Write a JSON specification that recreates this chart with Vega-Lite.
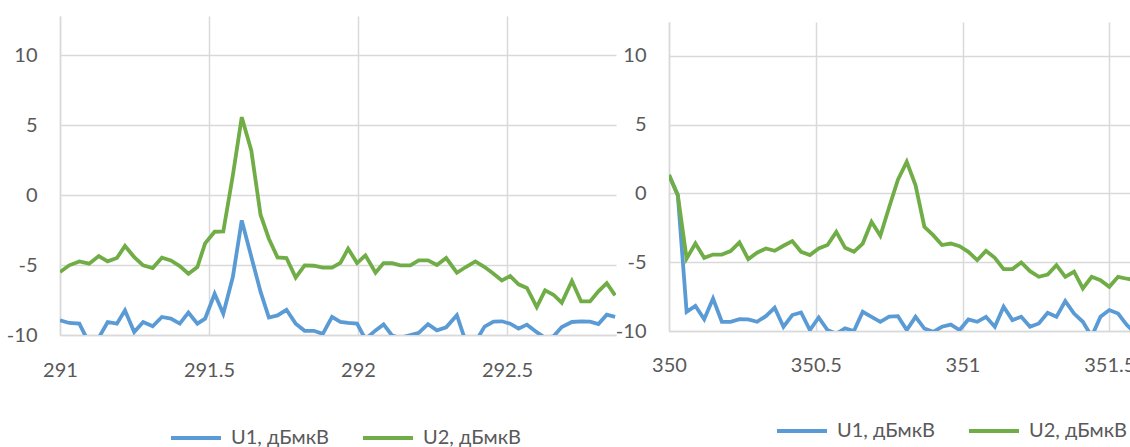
{
  "$schema": "https://vega.github.io/schema/vega-lite/v6.json",
  "autosize": {"type": "pad"},
  "padding": {"left": 6, "top": 13, "right": 0, "bottom": 0},
  "background": "white",
  "config": {
    "view": {"stroke": null},
    "font": "Lato",
    "axis": {
      "labelFont": "Lato", "labelFontSize": 20, "labelColor": "#595959",
      "ticks": false, "tickSize": 0, "title": null,
      "gridColor": "#d9d9d9", "gridWidth": 1.5,
      "domainColor": "#d9d9d9", "domainWidth": 1.5,
      "labelFlush": false, "labelOverlap": false, "labelBound": false,
      "labelExpr": "datum.value < 0 ? '-' + abs(datum.value) : '' + datum.value"
    },
    "legend": {
      "labelFont": "Lato", "labelFontSize": 20, "labelColor": "#595959",
      "symbolType": "stroke", "symbolSize": 2500, "symbolStrokeWidth": 4,
      "columnPadding": 26, "labelOffset": 8, "padding": 0
    }
  },
  "datasets": {
    "left": [
      {"f": 291.000, "u1": -8.95, "u2": -5.5},
      {"f": 291.031, "u1": -9.14, "u2": -5.02},
      {"f": 291.065, "u1": -9.19, "u2": -4.74},
      {"f": 291.098, "u1": -10.6, "u2": -4.9},
      {"f": 291.130, "u1": -10.2, "u2": -4.36},
      {"f": 291.160, "u1": -9.07, "u2": -4.74},
      {"f": 291.191, "u1": -9.19, "u2": -4.5},
      {"f": 291.218, "u1": -8.24, "u2": -3.64},
      {"f": 291.249, "u1": -9.79, "u2": -4.43},
      {"f": 291.279, "u1": -9.07, "u2": -5.02},
      {"f": 291.311, "u1": -9.38, "u2": -5.21},
      {"f": 291.342, "u1": -8.71, "u2": -4.48},
      {"f": 291.372, "u1": -8.83, "u2": -4.67},
      {"f": 291.402, "u1": -9.19, "u2": -5.07},
      {"f": 291.431, "u1": -8.4, "u2": -5.62},
      {"f": 291.461, "u1": -9.19, "u2": -5.14},
      {"f": 291.487, "u1": -8.83, "u2": -3.45},
      {"f": 291.519, "u1": -7.05, "u2": -2.62},
      {"f": 291.548, "u1": -8.48, "u2": -2.6},
      {"f": 291.580, "u1": -5.86, "u2": 1.4},
      {"f": 291.610, "u1": -1.81, "u2": 5.57},
      {"f": 291.642, "u1": -4.4, "u2": 3.19},
      {"f": 291.673, "u1": -6.9, "u2": -1.4},
      {"f": 291.701, "u1": -8.75, "u2": -3.12},
      {"f": 291.730, "u1": -8.6, "u2": -4.45},
      {"f": 291.760, "u1": -8.2, "u2": -4.5},
      {"f": 291.791, "u1": -9.19, "u2": -5.9},
      {"f": 291.821, "u1": -9.7, "u2": -5.02},
      {"f": 291.852, "u1": -9.7, "u2": -5.05},
      {"f": 291.882, "u1": -9.92, "u2": -5.19},
      {"f": 291.913, "u1": -8.71, "u2": -5.19},
      {"f": 291.941, "u1": -9.07, "u2": -4.85},
      {"f": 291.967, "u1": -9.14, "u2": -3.83},
      {"f": 291.997, "u1": -9.19, "u2": -4.86},
      {"f": 292.025, "u1": -10.3, "u2": -4.31},
      {"f": 292.059, "u1": -9.67, "u2": -5.55},
      {"f": 292.086, "u1": -9.24, "u2": -4.86},
      {"f": 292.115, "u1": -10.05, "u2": -4.86},
      {"f": 292.142, "u1": -10.2, "u2": -5.02},
      {"f": 292.176, "u1": -10.0, "u2": -5.02},
      {"f": 292.204, "u1": -9.85, "u2": -4.67},
      {"f": 292.235, "u1": -9.22, "u2": -4.67},
      {"f": 292.265, "u1": -9.67, "u2": -5.0},
      {"f": 292.296, "u1": -9.45, "u2": -4.5},
      {"f": 292.332, "u1": -8.58, "u2": -5.55},
      {"f": 292.362, "u1": -10.5, "u2": -5.14},
      {"f": 292.394, "u1": -10.5, "u2": -4.74},
      {"f": 292.425, "u1": -9.4, "u2": -5.14},
      {"f": 292.455, "u1": -9.05, "u2": -5.62},
      {"f": 292.483, "u1": -9.02, "u2": -6.1},
      {"f": 292.511, "u1": -9.19, "u2": -5.79},
      {"f": 292.539, "u1": -9.55, "u2": -6.38},
      {"f": 292.567, "u1": -9.26, "u2": -6.64},
      {"f": 292.600, "u1": -9.8, "u2": -8.0},
      {"f": 292.628, "u1": -10.2, "u2": -6.81},
      {"f": 292.656, "u1": -10.1, "u2": -7.12},
      {"f": 292.684, "u1": -9.43, "u2": -7.69},
      {"f": 292.718, "u1": -9.07, "u2": -6.14},
      {"f": 292.749, "u1": -9.03, "u2": -7.6},
      {"f": 292.779, "u1": -9.05, "u2": -7.6},
      {"f": 292.807, "u1": -9.22, "u2": -6.88},
      {"f": 292.835, "u1": -8.55, "u2": -6.29},
      {"f": 292.863, "u1": -8.71, "u2": -7.17}
    ],
    "right": [
      {"f": 350.00, "u1": 1.34, "u2": 1.34},
      {"f": 350.03, "u1": -0.12, "u2": -0.12},
      {"f": 350.06, "u1": -8.6, "u2": -4.73},
      {"f": 350.09, "u1": -8.17, "u2": -3.64},
      {"f": 350.12, "u1": -9.14, "u2": -4.68},
      {"f": 350.15, "u1": -7.64, "u2": -4.44},
      {"f": 350.18, "u1": -9.33, "u2": -4.44},
      {"f": 350.21, "u1": -9.33, "u2": -4.19},
      {"f": 350.24, "u1": -9.14, "u2": -3.56},
      {"f": 350.27, "u1": -9.16, "u2": -4.77},
      {"f": 350.30, "u1": -9.33, "u2": -4.31},
      {"f": 350.33, "u1": -8.92, "u2": -4.0},
      {"f": 350.36, "u1": -8.31, "u2": -4.17},
      {"f": 350.39, "u1": -9.69, "u2": -3.8},
      {"f": 350.42, "u1": -8.84, "u2": -3.46},
      {"f": 350.45, "u1": -8.65, "u2": -4.24},
      {"f": 350.48, "u1": -9.93, "u2": -4.48},
      {"f": 350.51, "u1": -9.02, "u2": -4.0},
      {"f": 350.54, "u1": -9.93, "u2": -3.75},
      {"f": 350.57, "u1": -10.2, "u2": -2.79},
      {"f": 350.60, "u1": -9.8, "u2": -3.95},
      {"f": 350.63, "u1": -10.0, "u2": -4.24},
      {"f": 350.66, "u1": -8.6, "u2": -3.64},
      {"f": 350.69, "u1": -8.97, "u2": -2.06},
      {"f": 350.72, "u1": -9.33, "u2": -3.08},
      {"f": 350.75, "u1": -8.95, "u2": -1.0},
      {"f": 350.78, "u1": -8.92, "u2": 1.0},
      {"f": 350.81, "u1": -9.93, "u2": 2.3},
      {"f": 350.84, "u1": -8.97, "u2": 0.6},
      {"f": 350.87, "u1": -9.82, "u2": -2.42},
      {"f": 350.90, "u1": -10.06, "u2": -3.03},
      {"f": 350.93, "u1": -9.69, "u2": -3.75},
      {"f": 350.96, "u1": -9.53, "u2": -3.64},
      {"f": 350.99, "u1": -9.93, "u2": -3.83},
      {"f": 351.02, "u1": -9.16, "u2": -4.24},
      {"f": 351.05, "u1": -9.33, "u2": -4.85},
      {"f": 351.08, "u1": -8.97, "u2": -4.17},
      {"f": 351.11, "u1": -9.69, "u2": -4.68},
      {"f": 351.14, "u1": -8.24, "u2": -5.5},
      {"f": 351.17, "u1": -9.21, "u2": -5.5},
      {"f": 351.20, "u1": -8.97, "u2": -5.02},
      {"f": 351.23, "u1": -9.69, "u2": -5.65},
      {"f": 351.26, "u1": -9.45, "u2": -6.06},
      {"f": 351.29, "u1": -8.68, "u2": -5.89},
      {"f": 351.32, "u1": -8.97, "u2": -5.21},
      {"f": 351.35, "u1": -7.83, "u2": -6.06},
      {"f": 351.38, "u1": -8.73, "u2": -5.69},
      {"f": 351.41, "u1": -9.33, "u2": -6.91},
      {"f": 351.44, "u1": -10.4, "u2": -6.06},
      {"f": 351.47, "u1": -8.97, "u2": -6.3},
      {"f": 351.50, "u1": -8.48, "u2": -6.79},
      {"f": 351.53, "u1": -8.73, "u2": -6.06},
      {"f": 351.56, "u1": -9.57, "u2": -6.2},
      {"f": 351.59, "u1": -10.2, "u2": -6.3}
    ]
  },
  "bounds": "flush",
  "spacing": 53,
  "resolve": {"scale": {"x": "independent", "y": "independent"}, "legend": {"color": "independent"}},
  "hconcat": [
    {
      "width": 556,
      "height": 319,
      "data": {"name": "left"},
      "transform": [{"fold": ["u1", "u2"], "as": ["s", "v"]}],
      "mark": {"type": "line", "clip": true, "strokeWidth": 3.8},
      "encoding": {
        "x": {"field": "f", "type": "quantitative",
              "scale": {"domain": [291, 292.866], "nice": false, "zero": false},
              "axis": {"values": [291, 291.5, 292, 292.5], "labelPadding": 25}},
        "y": {"field": "v", "type": "quantitative",
              "scale": {"domain": [-10, 12.8], "nice": false, "zero": false},
              "axis": {"values": [-10, -5, 0, 5, 10], "labelPadding": 23}},
        "color": {"field": "s", "type": "nominal",
                  "scale": {"domain": ["u1", "u2"], "range": ["#5B9BD5", "#70AD47"]},
                  "legend": {"orient": "none", "legendX": 109, "legendY": 395, "direction": "horizontal", "title": null,
                             "labelExpr": "datum.label == 'u1' ? 'U1, дБмкВ' : 'U2, дБмкВ'"}}
      }
    },
    {
      "spacing": 0,
      "bounds": "flush",
      "resolve": {"scale": {"x": "independent", "y": "independent"}, "legend": {"color": "independent"}},
      "vconcat": [
        {
          "width": 462,
          "height": 6,
          "data": {"values": [{"t": ""}]},
          "mark": {"type": "text"},
          "encoding": {"text": {"field": "t"}}
        },
        {
          "width": 462,
          "height": 309,
          "data": {"name": "right"},
          "transform": [{"fold": ["u1", "u2"], "as": ["s", "v"]}],
          "mark": {"type": "line", "clip": true, "strokeWidth": 3.8},
          "encoding": {
            "x": {"field": "f", "type": "quantitative",
                  "scale": {"domain": [350, 351.574], "nice": false, "zero": false},
                  "axis": {"values": [350, 350.5, 351, 351.5], "labelPadding": 24}},
            "y": {"field": "v", "type": "quantitative",
                  "scale": {"domain": [-10, 12.47], "nice": false, "zero": false},
                  "axis": {"values": [-10, -5, 0, 5, 10], "labelPadding": 23}},
            "color": {"field": "s", "type": "nominal",
                      "scale": {"domain": ["u1", "u2"], "range": ["#5B9BD5", "#70AD47"]},
                      "legend": {"orient": "none", "legendX": 106, "legendY": 382, "direction": "horizontal", "title": null,
                                 "labelExpr": "datum.label == 'u1' ? 'U1, дБмкВ' : 'U2, дБмкВ'"}}
          }
        }
      ]
    }
  ]
}
